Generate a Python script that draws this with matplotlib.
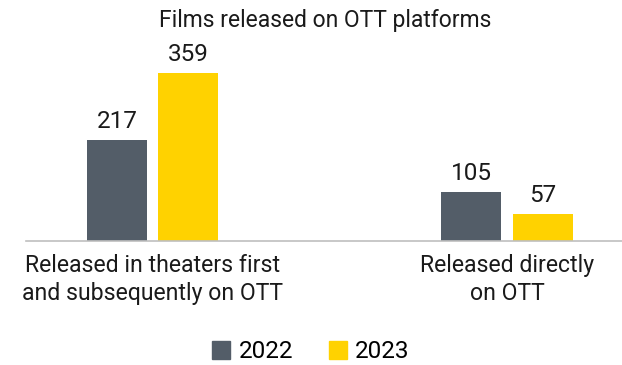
import matplotlib
matplotlib.use("Agg")
import matplotlib.pyplot as plt
from matplotlib.patches import Patch

categories = ["Released in theaters first\nand subsequently on OTT", "Released directly\non OTT"]
years = ["2022", "2023"]
values_2022 = [217, 105]
values_2023 = [359, 57]
colors = {"2022": "#535D68", "2023": "#FFD200"}

plt.rcParams["font.family"] = ["Roboto", "DejaVu Sans"]
text_color = "#1a1a1a"

fig = plt.figure(figsize=(6.22, 3.65), dpi=100)
ax = fig.add_axes([0.0418, 0.3397, 0.958, 0.4959])

x = list(range(len(categories)))
width = 0.169
offset = 0.1008

b1 = ax.bar([i - offset for i in x], values_2022, width, color=colors["2022"], label="2022")
b2 = ax.bar([i + offset for i in x], values_2023, width, color=colors["2023"], label="2023")

for bars in (b1, b2):
    ax.bar_label(bars, padding=5, fontsize=17.5, color=text_color)

ax.set_xlim(-0.357, 1.324)
ax.set_ylim(0, 387)
ax.set_yticks([])
ax.set_xticks(x)
ax.set_xticklabels(categories, fontsize=16.6, color=text_color, linespacing=1.28)
ax.tick_params(axis="x", length=0, pad=9)
for s in ("top", "right", "left"):
    ax.spines[s].set_visible(False)
ax.spines["bottom"].set_color("#BFBFBF")
ax.spines["bottom"].set_linewidth(1.2)

fig.text(0.523, 0.945, "Films released on OTT platforms", ha="center", va="center",
         fontsize=16.5, color=text_color)

handles = [Patch(color=colors[y]) for y in years]
fig.legend(handles, years, loc="center", bbox_to_anchor=(0.5, 0.036), ncol=2,
           frameon=False, fontsize=17.5, handlelength=0.75, handleheight=0.75,
           handletextpad=0.35, columnspacing=1.45, borderpad=0)

fig.savefig("out.png", dpi=100)
